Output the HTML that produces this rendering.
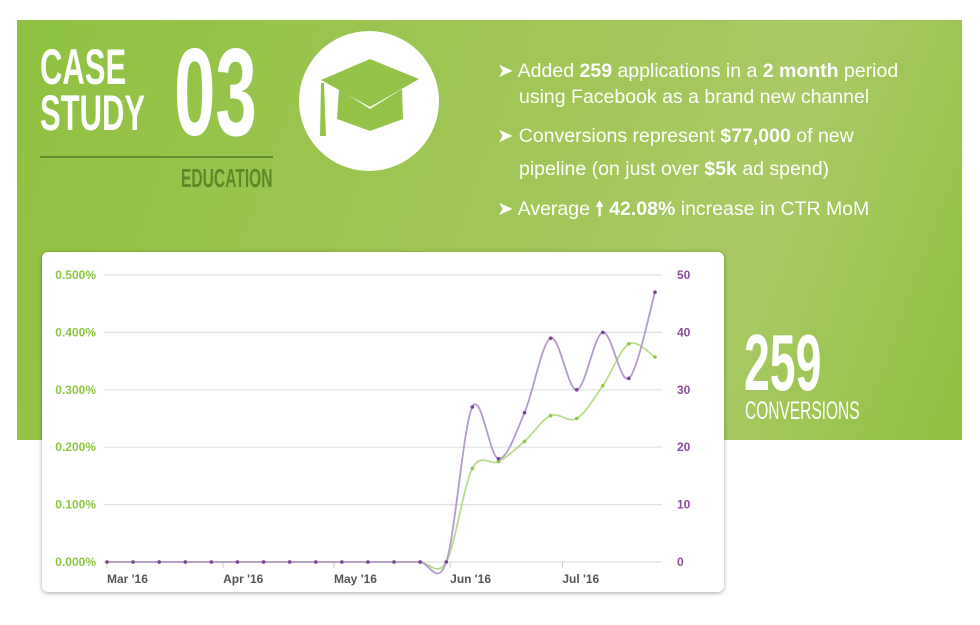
<!DOCTYPE html>
<html><head><meta charset="utf-8"><style>
body{margin:0;width:980px;height:625px;background:#fff;position:relative;overflow:hidden;font-family:"Liberation Sans",sans-serif}
.abs{position:absolute}
#panel{left:17px;top:20px;width:945px;height:420px;background:linear-gradient(110deg,#8fc240 0%,#a2c659 55%,#a8c964 75%,#8fc13f 100%)}
.cond{font-weight:bold;transform-origin:0 0;white-space:nowrap;color:#fff}
.bl{left:497px;color:#fff;font-size:19.5px;white-space:nowrap}
.bl b{font-weight:bold}
#card{left:42px;top:252px;width:682px;height:340px;background:#fff;border-radius:6px;box-shadow:0 1px 4px rgba(0,0,0,.35)}
</style></head><body>
<div id="panel" class="abs"></div>
<div class="abs cond" style="left:40px;top:44px;font-size:50px;line-height:46px;transform:scaleX(0.62)">CASE<br>STUDY</div>
<div class="abs cond" style="left:174px;top:38px;font-size:124px;line-height:110px;transform:scaleX(0.6)">03</div>
<div class="abs" style="left:40px;top:156px;width:233px;height:2px;background:#5f8f2b"></div>
<div class="abs cond" style="left:181px;top:166px;font-size:26px;line-height:24px;color:#5a8a28;transform:scaleX(0.6)">EDUCATION</div>
<svg class="abs" style="left:299px;top:31px" width="141" height="141">
<circle cx="70" cy="70" r="70" fill="#fff"/>
<polygon points="22,49 71,28 120,48 71,76" fill="#93c347"/>
<polygon points="40,58 71,78 103,58 104,88 71,100 38,88" fill="#93c347"/>
<polygon points="22,52 25,52 27,105 21,105" fill="#93c347"/>
</svg>
<div class="abs bl" style="top:58px;line-height:26px">➤ Added <b>259</b> applications in a <b>2 month</b> period<br><span style="padding-left:22px">using Facebook as a brand new channel</span></div>
<div class="abs bl" style="top:120px;line-height:33px">➤ Conversions represent <b>$77,000</b> of new<br><span style="padding-left:22px">pipeline (on just over <b>$5k</b> ad spend)</span></div>
<div class="abs bl" style="top:196px;line-height:26px">➤ Average <b>🠕 42.08%</b> increase in CTR MoM</div>
<div class="abs cond" style="left:744px;top:326px;font-size:80px;line-height:74px;transform:scaleX(0.58)">259</div>
<div class="abs cond" style="left:745px;top:398px;font-size:25px;line-height:26px;font-weight:normal;transform:scaleX(0.62)">CONVERSIONS</div>
<div id="card" class="abs"></div>
<svg id="chart" class="abs" style="left:0;top:0" width="980" height="625"></svg>
<script>
const ctrValues=[0,0,0,0,0,0,0,0,0,0,0,0,0,0,0.163,0.175,0.21,0.255,0.25,0.307,0.38,0.357];
const conversionValues=[0,0,0,0,0,0,0,0,0,0,0,0,0,0,27,18,26,39,30,40,32,47];
const leftTicks=[0,0.1,0.2,0.3,0.4,0.5];
const rightTicks=[0,10,20,30,40,50];
const monthLabels=["Mar '16","Apr '16","May '16","Jun '16","Jul '16"];
const monthIndex=[0,4.45,8.7,13.15,17.45];
const svg=document.getElementById('chart');
const NS='http://www.w3.org/2000/svg';
const x0=107,x1=655,yB=562,yT=275;
const n=ctrValues.length;
const xs=i=>x0+(x1-x0)*i/(n-1);
const yL=v=>yB-(yB-yT)*v/0.5;
const yR=v=>yB-(yB-yT)*v/50;
function mk(t,a){const e=document.createElementNS(NS,t);for(const k in a)e.setAttribute(k,a[k]);svg.appendChild(e);return e;}
leftTicks.forEach((t,i)=>{
  const g=mk('line',{x1:104,x2:662,y1:yL(t),y2:yL(t),stroke:'#e0e0e0','stroke-width':1.2});
  
  
  const l=mk('text',{x:96,y:yL(t)+4,'text-anchor':'end','font-size':12,'font-weight':'bold',fill:'#8dc63f'});
  l.textContent=t.toFixed(3)+'%';
  
  
});
rightTicks.forEach(t=>{
  const l=mk('text',{x:677,y:yR(t)+4,'font-size':12,'font-weight':'bold',fill:'#8a4c9c'});
  l.textContent=t;
  
  
});
monthLabels.forEach((m,i)=>{
  const x=xs(monthIndex[i]);
  const tk=mk('line',{x1:x,x2:x,y1:yB,y2:yB+6,stroke:'#ccc'});
  
  
  const l=mk('text',{x:x,y:yB+21,'font-size':12,'font-weight':'bold',fill:'#555'});
  l.textContent=m;
  
  
});
function path(pts){let d='M'+pts[0][0]+','+pts[0][1];for(let i=0;i<pts.length-1;i++){const p0=pts[i-1]||pts[i],p1=pts[i],p2=pts[i+1],p3=pts[i+2]||p2;const t=6;d+=' C'+(p1[0]+(p2[0]-p0[0])/t)+','+(p1[1]+(p2[1]-p0[1])/t)+' '+(p2[0]-(p3[0]-p1[0])/t)+','+(p2[1]-(p3[1]-p1[1])/t)+' '+p2[0]+','+p2[1];}return d;}
const gp=ctrValues.map((v,i)=>[xs(i),yL(v)]);
const pp=conversionValues.map((v,i)=>[xs(i),yR(v)]);
const gl=mk('path',{d:path(gp),fill:'none',stroke:'#b9dc8c','stroke-width':1.8});


const pl=mk('path',{d:path(pp),fill:'none',stroke:'#b59acc','stroke-width':1.8});


gp.forEach(p=>{const c=mk('circle',{cx:p[0],cy:p[1],r:1.8,fill:'#8dc63f'});
  
  });
pp.forEach(p=>{const c=mk('circle',{cx:p[0],cy:p[1],r:1.8,fill:'#7d3f98'});
  
  });
</script>
</body></html>
